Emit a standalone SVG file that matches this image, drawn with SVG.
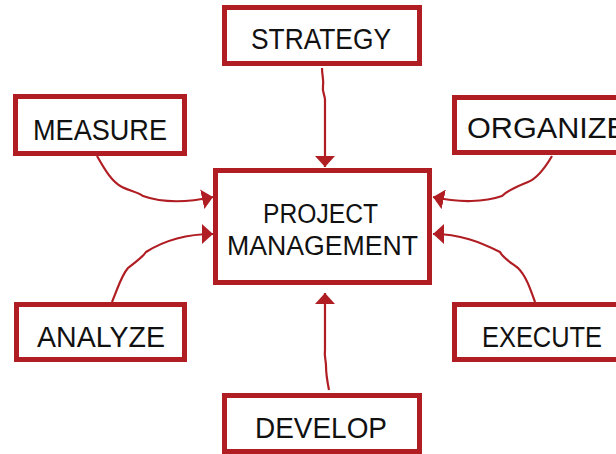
<svg xmlns="http://www.w3.org/2000/svg" width="616" height="454" viewBox="0 0 616 454">
<style>
.box{fill:#fff;stroke:#B01E24;stroke-width:5}
.lbl{font-family:"Liberation Sans",Arial,sans-serif;font-size:29px;fill:#111;text-anchor:start}
.con{fill:none;stroke:#B01E24;stroke-width:2.2}
</style>
<defs>
<marker id="ah" markerUnits="userSpaceOnUse" markerWidth="12" markerHeight="20" refX="11" refY="10" orient="auto" viewBox="0 0 12 20">
<path d="M0,0 L11,10 L0,20 z" fill="#B01E24"/>
</marker>
</defs>
<rect width="616" height="454" fill="#fff"/>
<g id="connectors">
<path class="con" marker-end="url(#ah)" d="M322,68 C322,76 324,80 323,86 C322,92 325,95 325,100 L325,167"/>
<path class="con" marker-end="url(#ah)" d="M97,156 C105,170 112,182 122,187 C130,191 138,192 143,196 C160,202 185,203 213,197"/>
<path class="con" marker-end="url(#ah)" d="M552,156 C545,168 538,178 528,182 C518,186 508,190 502,196 C485,202 460,203 433,197"/>
<path class="con" marker-end="url(#ah)" d="M112,302 C118,288 121,276 128,268 C135,262 142,258 146,252 C165,240 185,234 213,234"/>
<path class="con" marker-end="url(#ah)" d="M535,302 C530,288 526,276 518,268 C510,262 503,258 500,252 C480,242 460,234 433,234"/>
<path class="con" marker-end="url(#ah)" d="M329,390 C327,380 326,372 326,366 C326,360 324,356 325,350 L325,293"/>
</g>
<g id="strategy">
<rect class="box" x="224.5" y="7.5" width="195" height="56"/>
<text class="lbl" x="251" y="49" textLength="140" lengthAdjust="spacingAndGlyphs">STRATEGY</text>
</g>
<g id="measure">
<rect class="box" x="15.5" y="96.5" width="169" height="57"/>
<text class="lbl" x="33" y="140" textLength="134" lengthAdjust="spacingAndGlyphs">MEASURE</text>
</g>
<g id="organize">
<rect class="box" x="454.5" y="97.5" width="180" height="55"/>
<text class="lbl" x="467" y="138" textLength="160" lengthAdjust="spacingAndGlyphs">ORGANIZE</text>
</g>
<g id="project-management">
<rect class="box" x="215.5" y="170.5" width="214" height="112"/>
<text class="lbl" x="263" y="223" textLength="115" lengthAdjust="spacingAndGlyphs" style="font-size:27px">PROJECT</text>
<text class="lbl" x="227" y="255" textLength="191" lengthAdjust="spacingAndGlyphs" style="font-size:27px">MANAGEMENT</text>
</g>
<g id="analyze">
<rect class="box" x="16.5" y="304.5" width="168" height="55"/>
<text class="lbl" x="37" y="347" textLength="128" lengthAdjust="spacingAndGlyphs">ANALYZE</text>
</g>
<g id="execute">
<rect class="box" x="454.5" y="304.5" width="180" height="55"/>
<text class="lbl" x="482" y="347" textLength="120" lengthAdjust="spacingAndGlyphs">EXECUTE</text>
</g>
<g id="develop">
<rect class="box" x="224.5" y="395.5" width="195" height="56"/>
<text class="lbl" x="255" y="438" textLength="132" lengthAdjust="spacingAndGlyphs">DEVELOP</text>
</g>
</svg>
